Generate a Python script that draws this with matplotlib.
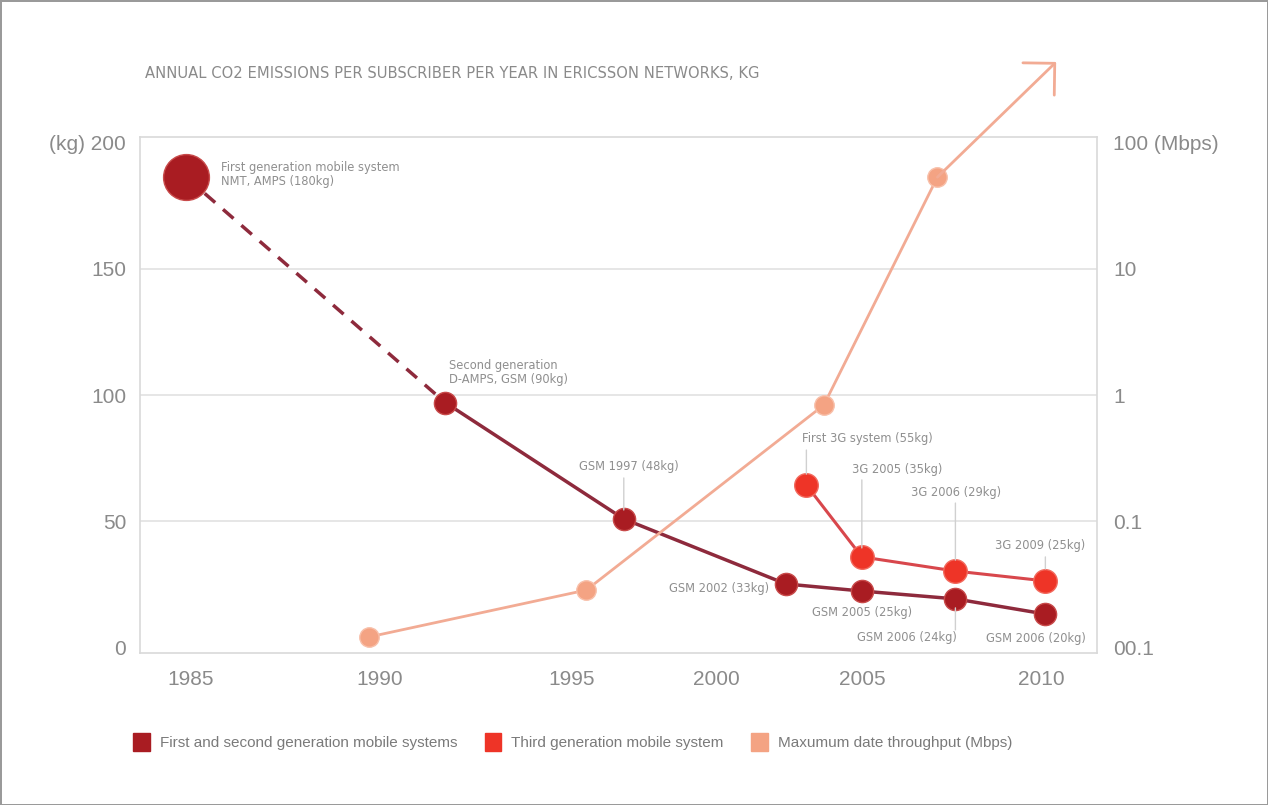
import numpy as np
import matplotlib
matplotlib.use('Agg')
import matplotlib.pyplot as plt
from matplotlib.patches import Patch

plt.rcParams['font.family'] = ['Liberation Sans', 'DejaVu Sans']

# --- data ---
gen12_years = [1984.9, 1991.7, 1996.8, 2002.4, 2005.0, 2007.6, 2010.1]
gen12_kg = [186, 97, 51, 25.3, 22.5, 19.4, 13.4]

gen3_years = [2003.1, 2005.0, 2007.6, 2010.1]
gen3_kg = [64.4, 36, 30.4, 26.5]

tput_years = [1989.7, 1995.5, 2003.7, 2007.1]
tput_mbps = [0.0122, 0.0287, 0.834, 52.8]
tput_arrow_year = 2010.4
tput_arrow_mbps = 430

year_ticks = [1985, 1990, 1995, 2000, 2005, 2010]
kg_ticks = [0, 50, 100, 150, 200]
kg_ticklabels = ['0', '50', '100', '150', '(kg) 200']
mbps_ticks = [0.01, 0.1, 1, 10, 100]
mbps_ticklabels = ['00.1', '0.1', '1', '10', '100 (Mbps)']

gen12_labels = ['First generation mobile system\nNMT, AMPS (180kg)',
                'Second generation\nD-AMPS, GSM (90kg)',
                'GSM 1997 (48kg)', 'GSM 2002 (33kg)', 'GSM 2005 (25kg)',
                'GSM 2006 (24kg)', 'GSM 2006 (20kg)']
gen3_labels = ['First 3G system (55kg)', '3G 2005 (35kg)',
               '3G 2006 (29kg)', '3G 2009 (25kg)']

# the original chart spaces its year ticks unevenly -> piecewise linear scale
anchor_years = [1980, 1985, 1990, 1995, 2000, 2005, 2010, 2015]
anchor_pos = [0, 190, 380, 572, 716, 862, 1042, 1222]


def fwd(x):
    return np.interp(x, anchor_years, anchor_pos)


def inv(p):
    return np.interp(p, anchor_pos, anchor_years)


C12 = '#a91c22'
C12_LINE = '#8e2a3c'
C3 = '#ee3427'
C3_LINE = '#d8474c'
CT = '#f4a383'
CT_LINE = '#f2ab94'
GREY = '#8a8a8a'
LEADER = '#d0d0d0'
ANN = ['DejaVu Sans']

fig = plt.figure(figsize=(12.68, 8.05), dpi=100)
fig.patch.set_edgecolor('#9a9a9a')
fig.patch.set_linewidth(2)
ax = fig.add_axes([0.1104, 0.1888, 0.865 - 0.1104, 0.8298 - 0.1888])
ax.set_xscale('function', functions=(fwd, inv))
ax.set_xlim(1983.68, 2011.53)
ax.set_ylim(-2, 202)

for s in ax.spines.values():
    s.set_color('#d9d9d9')
    s.set_linewidth(1.2)
ax.set_yticks(kg_ticks)
ax.set_yticklabels(kg_ticklabels)
ax.set_xticks(year_ticks)
ax.set_xticklabels([str(y) for y in year_ticks])
ax.tick_params(length=0, labelsize=15, labelcolor=GREY)
ax.tick_params(axis='y', pad=10)
ax.tick_params(axis='x', pad=12)
for v in kg_ticks[1:-1]:
    ax.axhline(v, color='#e2e2e2', lw=1.2, zorder=0)

# 1st/2nd generation
ax.plot(gen12_years[:2], gen12_kg[:2], color=C12_LINE, lw=2.5,
        linestyle=(0, (4, 3)), zorder=2)
ax.plot(gen12_years[1:], gen12_kg[1:], color=C12_LINE, lw=2.5, zorder=2)
ax.plot(gen12_years[:1], gen12_kg[:1], 'o', ms=33, color=C12,
        mec='#c84a4a', mew=1, zorder=3)
ax.plot(gen12_years[1:], gen12_kg[1:], 'o', ms=16, color=C12,
        mec='#c84a4a', mew=1, zorder=3)

# 3rd generation
ax.plot(gen3_years, gen3_kg, color=C3_LINE, lw=2.2, zorder=2)
ax.plot(gen3_years, gen3_kg, 'o', ms=17, color=C3, mec='#f26a5e',
        mew=1, zorder=3)

# labels: text offset (dx, dy) in pixels, ha, leader (from, to) in pixels above point
gen12_ann = [((35, 3), 'left', None),
             ((4, 30), 'left', None),
             ((5, 52), 'center', (9, 41)),
             ((-17, -5), 'right', None),
             ((0, -21), 'center', None),
             ((1, -39), 'right', (-9, -31)),
             ((-9, -24), 'center', None)]
gen3_ann = [((-4, 47), 'left', (11, 35)),
            ((-10, 87), 'left', (9, 77)),
            ((-44, 79), 'left', (11, 68)),
            ((-50, 35), 'left', (12, 24))]

for xs, ys, labs, anns in [(gen12_years, gen12_kg, gen12_labels, gen12_ann),
                           (gen3_years, gen3_kg, gen3_labels, gen3_ann)]:
    for x, y, lab, ((dx, dy), ha, lead) in zip(xs, ys, labs, anns):
        ax.annotate(lab, xy=(x, y), xytext=(dx * 0.72, dy * 0.72),
                    textcoords='offset points', ha=ha, va='center',
                    fontsize=8.3, color='#8f8f8f', linespacing=1.05,
                    family=ANN, zorder=4)
        if lead is not None:
            a, b = lead
            ax.annotate('', xy=(x, y), xytext=(0, b * 0.72),
                        textcoords='offset points',
                        arrowprops=dict(arrowstyle='-', color=LEADER, lw=1,
                                        shrinkA=0, shrinkB=abs(a) * 0.72))

# throughput on log axis
ax2 = ax.twinx()
ax2.set_yscale('log')
ax2.set_ylim(10 ** (-2 - 2 / 50), 10 ** (2 + 2 / 50))
ax2.set_yticks(mbps_ticks)
ax2.set_yticklabels(mbps_ticklabels)
ax2.yaxis.set_minor_locator(plt.NullLocator())
ax2.tick_params(length=0, labelsize=15, labelcolor=GREY, pad=12)
for s in ax2.spines.values():
    s.set_visible(False)
ax2.plot(tput_years, tput_mbps, color=CT_LINE, lw=2, zorder=2)
ax2.plot(tput_years, tput_mbps, 'o', ms=14, color=CT, mec='#f8c0aa',
         mew=1, zorder=3)
ax2.annotate('', xy=(tput_arrow_year, tput_arrow_mbps),
             xytext=(tput_years[-1], tput_mbps[-1]),
             annotation_clip=False,
             arrowprops=dict(arrowstyle='->,head_length=0.6,head_width=0.6',
                             mutation_scale=27, color=CT_LINE, lw=2,
                             shrinkA=0, shrinkB=0))

fig.text(145 / 1268, 1 - 73 / 805,
         'ANNUAL CO2 EMISSIONS PER SUBSCRIBER PER YEAR IN ERICSSON NETWORKS, KG',
         fontsize=10.6, color='#8a8a8a', va='center', ha='left', family=ANN)

handles = [Patch(color=C12), Patch(color=C3), Patch(color=CT)]
labels = ['First and second generation mobile systems',
          'Third generation mobile system',
          'Maxumum date throughput (Mbps)']
fig.legend(handles, labels, loc='center left', bbox_to_anchor=(0.094, 1 - 742 / 805),
           ncol=3, frameon=False, fontsize=11, labelcolor='#7a7a7a',
           handlelength=1.1, handleheight=1.45, handletextpad=0.65,
           columnspacing=1.8)

fig.savefig('out.png', dpi=100)
